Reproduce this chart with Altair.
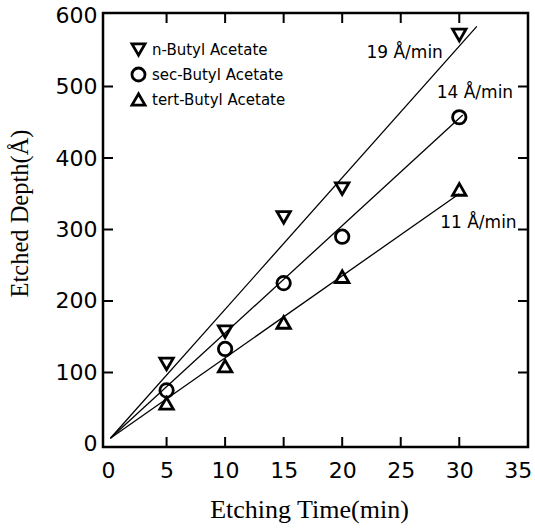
import altair as alt
import pandas as pd

# ---- data ----
times = [5, 10, 15, 20, 30]
n_butyl = [112, 157, 317, 357, 572]
sec_butyl = [75, 133, 225, 290, 457]
tert_butyl = [57, 109, 170, 234, 356]

series = ["n-Butyl Acetate", "sec-Butyl Acetate", "tert-Butyl Acetate"]
shapes = ["triangle-down", "circle", "triangle-up"]

# fitted lines (start / end points)
fit_x0 = [0.2, 0.2, 0.2]
fit_y0 = [8, 8, 8]
fit_x1 = [31.5, 30.3, 30.0]
fit_y1 = [584, 460, 350]

# rate annotations
rate_labels = ["19 Å/min", "14 Å/min", "11 Å/min"]
rate_x = [28.6, 34.6, 34.9]
rate_y = [547, 491, 309]

x_label_values = [0, 5, 10, 15, 20, 25, 30, 35]
y_label_values = [0, 100, 200, 300, 400, 500, 600]
x_tick_values = [5, 10, 15, 20, 25, 30]
y_tick_values = [100, 200, 300, 400, 500]

# ---- tables ----
rows = []
for s, vals in zip(series, [n_butyl, sec_butyl, tert_butyl]):
    for t, v in zip(times, vals):
        rows.append({"time": t, "depth": v, "series": s})
pts = pd.DataFrame(rows)

fits = pd.DataFrame({"series": series, "x0": fit_x0, "y0": fit_y0,
                     "x1": fit_x1, "y1": fit_y1})
rates = pd.DataFrame({"label": rate_labels, "x": rate_x, "y": rate_y})
xt = pd.DataFrame({"v": x_tick_values})
yt = pd.DataFrame({"v": y_tick_values})

W, H = 425, 434
xscale = alt.Scale(domain=[-0.43, 35.87], nice=False, zero=False)
yscale = alt.Scale(domain=[-4.2, 602.8], nice=False, zero=False)

x_axis = alt.Axis(values=x_label_values, ticks=False, tickSize=0, domain=False,
                  grid=False, labelFont="DejaVu Sans", labelFontSize=22,
                  labelColor="black", labelPadding=13, labelFlush=False,
                  title="Etching Time(min)", titleFont="Liberation Serif",
                  titleFontSize=26, titleFontWeight="normal", titleColor="black",
                  titleX=206, titleY=70, titleAlign="center",
                  titleBaseline="alphabetic", titleAngle=0)
y_axis = alt.Axis(values=y_label_values, ticks=False, tickSize=0, domain=False,
                  grid=False, labelFont="DejaVu Sans", labelFontSize=22,
                  labelColor="black", labelPadding=6, labelFlush=False,
                  title="Etched Depth(Å)", titleFont="Liberation Serif",
                  titleFontSize=24.5, titleFontWeight="normal", titleColor="black",
                  titleX=-76, titleY=200, titleAngle=270, titleAlign="center",
                  titleBaseline="alphabetic")

legend = alt.Legend(title=None, orient="none", legendX=27.5, legendY=28.5,
                    padding=0, rowPadding=0, symbolOffset=0, labelOffset=5.5,
                    labelFont="DejaVu Sans", labelFontSize=15, labelColor="black",
                    symbolSize=170, symbolStrokeWidth=2.8,
                    symbolStrokeColor="black", symbolFillColor="transparent",
                    labelExpr="(indexof(datum.label, 'n-') == 0 ? '\u2002\u2002\u2002' : '') + datum.label")

points = alt.Chart(pts).mark_point(filled=False, color="black", strokeWidth=2.8,
                                   size=180, opacity=1).encode(
    x=alt.X("time:Q", scale=xscale, axis=x_axis),
    y=alt.Y("depth:Q", scale=yscale, axis=y_axis),
    shape=alt.Shape("series:N", scale=alt.Scale(domain=series, range=shapes),
                    legend=legend),
)

lines = alt.Chart(fits).mark_rule(color="black", strokeWidth=1.3).encode(
    x=alt.X("x0:Q", scale=xscale),
    y=alt.Y("y0:Q", scale=yscale),
    x2="x1:Q",
    y2="y1:Q",
)

labels = alt.Chart(rates).mark_text(align="right", baseline="middle",
                                    font="DejaVu Sans", fontSize=17,
                                    color="black").encode(
    x=alt.X("x:Q", scale=xscale),
    y=alt.Y("y:Q", scale=yscale),
    text="label:N",
)

tick_len = 10
bottom_ticks = alt.Chart(xt).mark_rule(color="black", strokeWidth=2).encode(
    x=alt.X("v:Q", scale=xscale), y=alt.value(H), y2=alt.value(H - tick_len))
top_ticks = alt.Chart(xt).mark_rule(color="black", strokeWidth=2).encode(
    x=alt.X("v:Q", scale=xscale), y=alt.value(0), y2=alt.value(tick_len))
left_ticks = alt.Chart(yt).mark_rule(color="black", strokeWidth=2).encode(
    y=alt.Y("v:Q", scale=yscale), x=alt.value(0), x2=alt.value(tick_len))
right_ticks = alt.Chart(yt).mark_rule(color="black", strokeWidth=2).encode(
    y=alt.Y("v:Q", scale=yscale), x=alt.value(W), x2=alt.value(W - tick_len))

chart = alt.layer(
    lines, bottom_ticks, top_ticks, left_ticks, right_ticks, points, labels
).properties(
    width=W, height=H,
    autosize=alt.AutoSizeParams(type="none"),
    padding={"left": 103, "top": 13, "right": 7, "bottom": 84},
    background="white",
).configure_view(stroke="black", strokeWidth=2.5)

chart.save("out.html", embed_options={"renderer": "svg", "actions": False})
